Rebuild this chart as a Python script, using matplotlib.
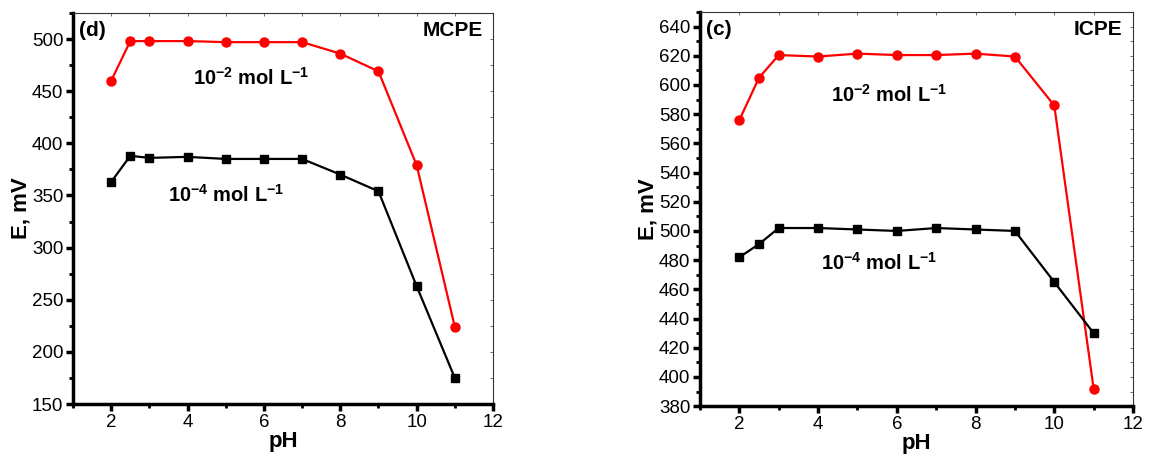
import matplotlib.pyplot as plt
from matplotlib.ticker import MultipleLocator

plt.rcParams['font.family'] = ['Liberation Sans', 'DejaVu Sans']
plt.rcParams['mathtext.fontset'] = 'custom'
plt.rcParams['mathtext.rm'] = 'Liberation Sans:bold'
plt.rcParams['mathtext.it'] = 'Liberation Sans:bold'
plt.rcParams['mathtext.bf'] = 'Liberation Sans:bold'

# ---- data
ph = [2, 2.5, 3, 4, 5, 6, 7, 8, 9, 10, 11]

mcpe_high = [460, 498, 498, 498, 497, 497, 497, 486, 469, 379, 224]
mcpe_low = [363, 388, 386, 387, 385, 385, 385, 370, 354, 263, 175]

icpe_high = [576, 605, 620.5, 619.5, 621.5, 620.5, 620.5, 621.5, 619.5, 586, 392]
icpe_low = [482, 491, 502, 502, 501, 500, 502, 501, 500, 465, 430]

label_high = r"10$^{-2}$ mol L$^{-1}$"
label_low = r"10$^{-4}$ mol L$^{-1}$"


def style_axes(ax, ylim, ymaj, ymin):
        ax.set_xlim(1, 12)
        ax.set_ylim(*ylim)
        ax.xaxis.set_major_locator(MultipleLocator(2))
        ax.xaxis.set_minor_locator(MultipleLocator(1))
        ax.yaxis.set_major_locator(MultipleLocator(ymaj))
        ax.yaxis.set_minor_locator(MultipleLocator(ymin))
        for side in ['left', 'bottom']:
                ax.spines[side].set_linewidth(2.5)
        for side in ['top', 'right']:
                ax.spines[side].set_linewidth(0.8)
                ax.spines[side].set_color('#333333')
        ax.tick_params(which='major', direction='out', length=5, width=2.5,
                       labelsize=13.5, pad=2)
        ax.tick_params(which='minor', direction='out', length=3, width=2)
        ax.set_xlabel("pH", fontsize=16, fontweight='bold', labelpad=0)
        ax.set_ylabel("E, mV", fontsize=16, fontweight='bold', labelpad=0)
        # thin inward ticks on top and right
        sec = ax.secondary_xaxis('top')
        sec.xaxis.set_major_locator(MultipleLocator(2))
        sec.xaxis.set_minor_locator(MultipleLocator(1))
        sec.tick_params(which='both', direction='in', length=2, width=0.6,
                        labeltop=False, colors='#555555')
        sec.spines['top'].set_visible(False)
        sec2 = ax.secondary_yaxis('right')
        sec2.yaxis.set_major_locator(MultipleLocator(ymaj))
        sec2.yaxis.set_minor_locator(MultipleLocator(ymin))
        sec2.tick_params(which='both', direction='in', length=2, width=0.6,
                         labelright=False, colors='#555555')
        sec2.spines['right'].set_visible(False)


fig = plt.figure(figsize=(11.5, 4.62), dpi=100)
ax1 = fig.add_axes([0.0635, 0.1255, 0.3652, 0.8465])
ax2 = fig.add_axes([0.6087, 0.121, 0.3765, 0.853])

# ---- MCPE
ax1.plot(ph, mcpe_high, color='red', linewidth=1.6, marker='o', markersize=6.5)
ax1.plot(ph, mcpe_low, color='black', linewidth=1.6, marker='s', markersize=6)
style_axes(ax1, (150, 525), 50, 25)
ax1.text(5.66, 463, label_high, fontsize=14.5, fontweight='bold', ha='center', va='center')
ax1.text(5.0, 351, label_low, fontsize=14.5, fontweight='bold', ha='center', va='center')
ax1.text(0.015, 0.955, "(d)", transform=ax1.transAxes, fontsize=15, fontweight='bold',
         ha='left', va='center')
ax1.text(0.975, 0.955, "MCPE", transform=ax1.transAxes, fontsize=15, fontweight='bold',
         ha='right', va='center')

# ---- ICPE
ax2.plot(ph, icpe_high, color='red', linewidth=1.6, marker='o', markersize=6.5)
ax2.plot(ph, icpe_low, color='black', linewidth=1.6, marker='s', markersize=6)
style_axes(ax2, (380, 650), 20, 10)
ax2.text(5.8, 593, label_high, fontsize=14.5, fontweight='bold', ha='center', va='center')
ax2.text(5.55, 478, label_low, fontsize=14.5, fontweight='bold', ha='center', va='center')
ax2.text(0.015, 0.955, "(c)", transform=ax2.transAxes, fontsize=15, fontweight='bold',
         ha='left', va='center')
ax2.text(0.975, 0.955, "ICPE", transform=ax2.transAxes, fontsize=15, fontweight='bold',
         ha='right', va='center')

plt.savefig("out.png", dpi=100)
